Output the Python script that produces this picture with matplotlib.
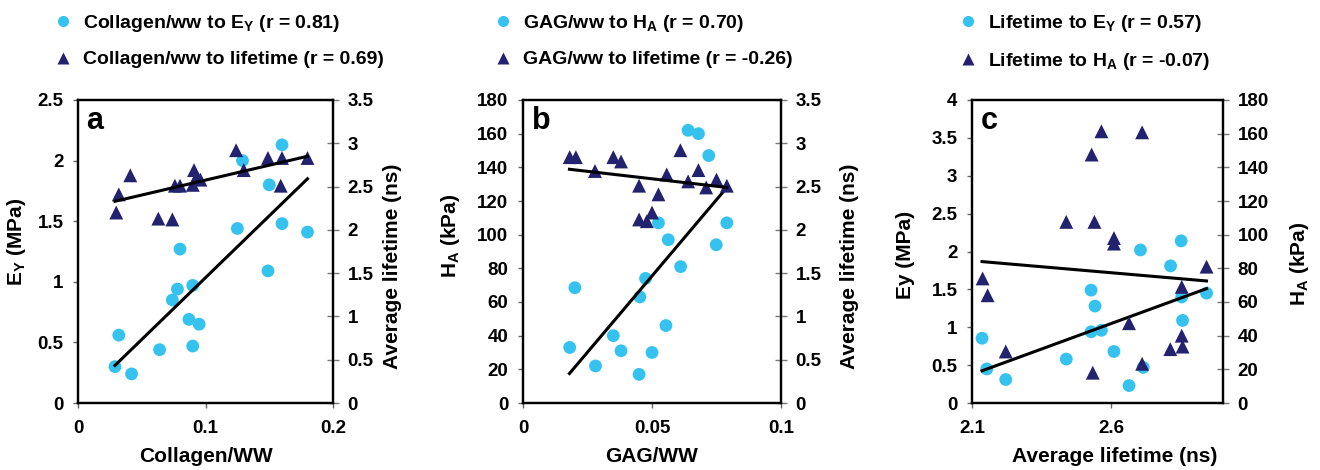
import matplotlib
matplotlib.use("Agg")
import matplotlib.pyplot as plt
from matplotlib.lines import Line2D
from matplotlib.ticker import FuncFormatter

plt.rcParams['font.family'] = ['Liberation Sans', 'DejaVu Sans']
plt.rcParams['font.weight'] = 'bold'
plt.rcParams['mathtext.fontset'] = 'custom'
plt.rcParams['mathtext.rm'] = 'Liberation Sans:bold'
plt.rcParams['mathtext.bf'] = 'Liberation Sans:bold'
plt.rcParams['mathtext.it'] = 'Liberation Sans:bold'

# ---------------- Panel a data ----------------
a_col_ey = [0.029, 0.032, 0.042, 0.064, 0.074, 0.078, 0.080, 0.090, 0.087, 0.095,
            0.090, 0.125, 0.129, 0.149, 0.150, 0.160, 0.160, 0.180]
a_ey = [0.30, 0.56, 0.24, 0.44, 0.85, 0.94, 1.27, 0.97, 0.69, 0.65,
        0.47, 1.44, 2.00, 1.09, 1.80, 2.13, 1.48, 1.41]
a_col_lt = [0.030, 0.032, 0.041, 0.063, 0.074, 0.076, 0.080, 0.090, 0.091, 0.093,
            0.096, 0.124, 0.130, 0.149, 0.160, 0.159, 0.180]
a_lt = [2.20, 2.41, 2.63, 2.13, 2.12, 2.51, 2.51, 2.52, 2.69, 2.61,
        2.58, 2.92, 2.69, 2.83, 2.83, 2.51, 2.83]
a_fit_x = [0.029, 0.180]
a_fit_ey = [0.31, 1.85]
a_fit_lt = [2.33, 2.85]

# ---------------- Panel b data ----------------
b_gag_ha = [0.0181, 0.0201, 0.0281, 0.035, 0.038, 0.045, 0.0453, 0.0475, 0.050,
            0.0525, 0.0563, 0.0554, 0.0611, 0.064, 0.068, 0.072, 0.0749, 0.079]
b_ha = [33, 68.5, 22, 40, 31, 17, 63, 74, 30, 107, 97, 46, 81, 162, 160, 147, 94, 107]
b_gag_lt = [0.0181, 0.0205, 0.0279, 0.035, 0.038, 0.045, 0.045, 0.048, 0.050,
            0.0525, 0.0557, 0.061, 0.064, 0.068, 0.071, 0.075, 0.079]
b_lt = [2.84, 2.84, 2.68, 2.84, 2.79, 2.51, 2.12, 2.10, 2.20, 2.41, 2.64,
        2.92, 2.56, 2.69, 2.49, 2.58, 2.51]
b_fit_x = [0.018, 0.079]
b_fit_ha = [17.5, 128]
b_fit_lt = [2.70, 2.49]

# ---------------- Panel c data ----------------
c_lt_ey = [2.136, 2.153, 2.221, 2.438, 2.527, 2.541, 2.527, 2.564, 2.609, 2.663,
           2.704, 2.714, 2.812, 2.850, 2.852, 2.855, 2.941]
c_ey = [0.855, 0.45, 0.31, 0.58, 1.49, 1.28, 0.94, 0.96, 0.68, 0.23,
        2.02, 0.47, 1.81, 2.14, 1.40, 1.09, 1.45]
c_lt_ha = [2.138, 2.156, 2.221, 2.438, 2.529, 2.564, 2.539, 2.533, 2.609, 2.609,
           2.663, 2.710, 2.710, 2.811, 2.852, 2.852, 2.855, 2.941]
c_ha = [74, 64, 30.6, 107.6, 147.6, 161.4, 107.6, 18, 98, 94.7,
        47.4, 160.8, 23.3, 32, 69, 40, 33.5, 81]
c_fit_x = [2.136, 2.941]
c_fit_ey = [0.425, 1.51]
c_fit_ha = [84, 72.5]

legend_a = [r'Collagen/ww to E$_{\mathbf{Y}}$ (r = 0.81)', 'Collagen/ww to lifetime (r = 0.69)']
legend_b = [r'GAG/ww to H$_{\mathbf{A}}$ (r = 0.70)', 'GAG/ww to lifetime (r = -0.26)']
legend_c = [r'Lifetime to E$_{\mathbf{Y}}$ (r = 0.57)', r'Lifetime to H$_{\mathbf{A}}$ (r = -0.07)']

CYAN = '#35c2ef'
NAVY = '#23226f'

fig = plt.figure(figsize=(13.2, 4.7), dpi=100)
W, H = 1320, 470

def make_axes(left, right, top=100, bottom=403):
    return fig.add_axes([left / W, 1 - bottom / H, (right - left) / W, (bottom - top) / H])

gfmt = FuncFormatter(lambda v, p: ('%g' % round(v, 4)))

def style(ax, ax2):
    for a in (ax, ax2):
        for s in a.spines.values():
            s.set_linewidth(1.6)
            s.set_color('black')
    ax.tick_params(axis='y', direction='out', length=3.5, width=1, color='#666666',
                   labelsize=13.5, pad=7)
    ax.tick_params(axis='x', direction='out', length=3.5, width=1, color='#666666',
                   labelsize=13.5, pad=9)
    ax2.tick_params(axis='y', direction='inout', length=9, width=1, color='#777777',
                    labelsize=13.5, pad=6)
    ax.xaxis.set_major_formatter(gfmt)
    ax.yaxis.set_major_formatter(gfmt)
    ax2.yaxis.set_major_formatter(gfmt)

def panel(left, right, xs1, ys1, xs2, ys2, fitx, fit1, fit2, xlim, ylim1, ylim2,
          xticks, yticks1, yticks2, xlabel, ylabel1, ylabel2, letter, legend_labels,
          leg_x, lab_pos):
    ax = make_axes(left, right)
    ax2 = ax.twinx()
    ax.scatter(xs1, ys1, s=85, color=CYAN, edgecolors='none', zorder=3)
    ax.plot(fitx, fit1, color='black', lw=2.2, zorder=4)
    ax2.scatter(xs2, ys2, s=100, marker='^', color=NAVY, edgecolors='none', zorder=3)
    ax2.plot(fitx, fit2, color='black', lw=2.2, zorder=4)
    ax.set_xlim(*xlim); ax.set_ylim(*ylim1); ax2.set_ylim(*ylim2)
    ax.set_xticks(xticks); ax.set_yticks(yticks1); ax2.set_yticks(yticks2)
    style(ax, ax2)
    ax.set_xlabel(xlabel, fontsize=15, fontweight='bold')
    ax.set_ylabel(ylabel1, fontsize=15, fontweight='bold')
    ax2.set_ylabel(ylabel2, fontsize=15, fontweight='bold')
    ax.xaxis.set_label_coords(lab_pos[0], -0.145)
    ax.yaxis.set_label_coords(lab_pos[1], lab_pos[2])
    ax2.yaxis.set_label_coords(lab_pos[3], lab_pos[4])
    ax.text(0.033, 0.904, letter, transform=ax.transAxes, fontsize=22,
            fontweight='bold', va='baseline', ha='left')
    handles = [Line2D([], [], ls='none', marker='o', markersize=8, color=CYAN, mec='none'),
               Line2D([], [], ls='none', marker='^', markersize=8.5, color=NAVY, mec='none')]
    fig.legend(handles, legend_labels, loc='upper left',
               bbox_to_anchor=(leg_x / W, 1 - 13 / H), frameon=False,
               prop={'size': 14, 'weight': 'bold'}, handlelength=1.0,
               handletextpad=0.55, labelspacing=0.86, borderpad=0, borderaxespad=0)
    return ax, ax2

panel(78, 333, a_col_ey, a_ey, a_col_lt, a_lt, a_fit_x, a_fit_ey, a_fit_lt,
      (0, 0.2), (0, 2.5), (0, 3.5), [0, 0.1, 0.2],
      [0, 0.5, 1, 1.5, 2, 2.5], [0, 0.5, 1, 1.5, 2, 2.5, 3, 3.5],
      'Collagen/WW', r'E$_{\mathbf{Y}}$ (MPa)', 'Average lifetime (ns)', 'a', legend_a,
      53, (0.5, -0.196, 0.53, 1.196, 0.45))

panel(523, 781, b_gag_ha, b_ha, b_gag_lt, b_lt, b_fit_x, b_fit_ha, b_fit_lt,
      (0, 0.1), (0, 180), (0, 3.5), [0, 0.05, 0.1],
      list(range(0, 181, 20)), [0, 0.5, 1, 1.5, 2, 2.5, 3, 3.5],
      'GAG/WW', r'H$_{\mathbf{A}}$ (kPa)', 'Average lifetime (ns)', 'b', legend_b,
      493, (0.5, -0.236, 0.55, 1.229, 0.45))

panel(972, 1223, c_lt_ey, c_ey, c_lt_ha, c_ha, c_fit_x, c_fit_ey, c_fit_ha,
      (2.1, 3.0), (0, 4), (0, 180), [2.1, 2.6],
      [0, 0.5, 1, 1.5, 2, 2.5, 3, 3.5, 4], list(range(0, 181, 20)),
      'Average lifetime (ns)', 'Ey (MPa)', r'H$_{\mathbf{A}}$ (kPa)', 'c', legend_c,
      958, (0.57, -0.227, 0.49, 1.259, 0.46))

fig.savefig('out.png', dpi=100, facecolor='white')
